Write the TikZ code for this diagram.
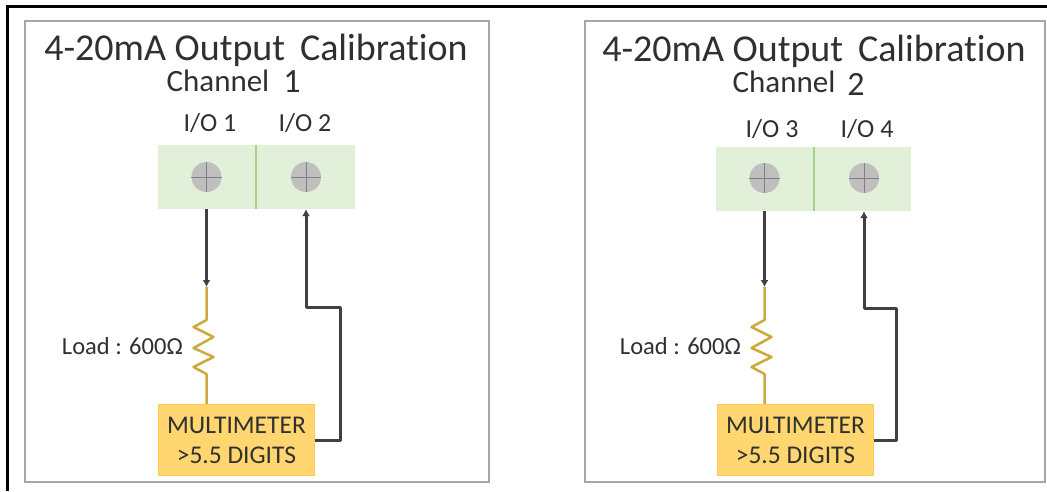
\documentclass[tikz,border=0pt]{standalone}
\usepackage{fontspec}
\setmainfont{Carlito}[Ligatures=NoCommon]
\usetikzlibrary{arrows.meta}
\definecolor{termgreen}{HTML}{E2EFD9}
\definecolor{divgreen}{HTML}{A9D18E}
\definecolor{screwgray}{HTML}{BFBFBF}
\definecolor{metergold}{HTML}{FFD670}
\definecolor{meteredge}{HTML}{FFC94D}
\definecolor{loadgold}{HTML}{CDAA3C}
\definecolor{wiregray}{HTML}{404040}
\definecolor{panelgray}{HTML}{A6A6A6}
\definecolor{textgray}{HTML}{303030}
\tikzset{
	panel/.style={draw=panelgray, line width=1.6pt, fill=white, minimum width=#1, minimum height=461pt, inner sep=0pt},
	terminal/.style={fill=termgreen, minimum height=64pt, inner sep=0pt},
	screw/.style={circle, fill=screwgray, minimum size=30pt, inner sep=0pt},
	meter/.style={draw=meteredge, line width=0.8pt, fill=metergold, minimum width=156pt, minimum height=71pt, inner sep=0pt, align=center, font=\fontsize{25.5}{30}\selectfont, text=textgray},
	wire/.style={draw=wiregray, line width=3pt, line join=round},
	loadwire/.style={draw=loadgold, line width=2.5pt, line join=round},
	tip/.style={-{Latex[length=7pt,width=8pt]}},
	iolabel/.style={font=\fontsize{26}{28}\selectfont, text=textgray, inner sep=0pt}
}
\begin{document}
\begin{tikzpicture}[x=1pt,y=-1pt]
	\useasboundingbox (0,0) rectangle (1047,491);
	\fill[white] (0,0) rectangle (1047,491);
	\coordinate (frameA) at (7.3,491);
	\coordinate (frameB) at (7.3,6.5);
	\coordinate (frameC) at (1047,6.5);
	\draw[line width=3pt] (frameA) -- (frameB) -- (frameC);
	% one panel per channel
	\foreach \n/\px/\pw/\dx/\dy/\ty/\cx/\cy/\ca/\cb/\nx/\ny in {1/257/464/0/0/50/218/81/1/2/292/82,2/815/460/558/2/51/784/82/3/4/856/84} {
		\node[panel=\pw] (box\n) at (\px,251.5) {};
		\node[inner sep=0pt, font=\fontsize{38}{40}\selectfont, text=textgray] (title\n) at (\px-1,\ty) {4-20mA Output\, Calibration};
		\node[inner sep=0pt, font=\fontsize{31}{33}\selectfont, text=textgray] (chan\n) at (\cx,\cy) {Channel};
		\node[inner sep=0pt, font=\fontsize{34}{36}\selectfont, text=textgray] (num\n) at (\nx,\ny) {\n};
		\node[terminal, minimum width=98pt] (ioa\n) at (207+\dx,177+\dy) {};
		\node[terminal, minimum width=99pt-\dy*1pt] (iob\n) at (305.5+\dx-\dy/2,177+\dy) {};
		\draw[divgreen, line width=1.6pt] (ioa\n.north east) -- (ioa\n.south east);
		\node[screw] (sa\n) at (206.5+\dx,177+\dy/2) {};
		\node[screw] (sb\n) at (306+\dx,177+\dy/2) {};
		\draw[gray, line width=0.5pt] (sa\n.north) -- (sa\n.south) (sa\n.west) -- (sa\n.east);
		\draw[gray, line width=0.5pt] (sb\n.north) -- (sb\n.south) (sb\n.west) -- (sb\n.east);
		\node[iolabel] (la\n) at (210+\dx+\dy*2,123+\dy*3) {I/O \ca};
		\node[iolabel] (lb\n) at (305+\dx+\dy*2,123+\dy*3) {I/O \cb};
		\node[meter] (mm\n) at (236.5+\dx+\dy/2,440) {MULTIMETER\\>5.5 DIGITS};
		\node[iolabel, anchor=east, font=\fontsize{24.5}{26}\selectfont] (load\n) at (183+\dx,346) {Load : 600Ω};
		% wires
		\coordinate (ra\n) at (206.5+\dx,287);
		\coordinate (rb\n) at (206.5+\dx,404);
		\coordinate (ua\n) at (340+\dx-\dy,440);
		\coordinate (ub\n) at (340+\dx-\dy,307+\dy/2);
		\coordinate (uc\n) at (306+\dx,307+\dy/2);
		\draw[loadwire] (ra\n) -- ++(0,33) -- ++(-13,7) -- ++(20,10) -- ++(-20,11) -- ++(20,9) -- ++(-20,10) -- ++(13,7) -- (rb\n);
		\draw[wire, tip] (sa\n |- ioa\n.south) -- (ra\n);
		\draw[wire, tip] (mm\n.east |- ua\n) -- (ua\n) -- (ub\n) -- (uc\n) -- (sb\n |- iob\n.south);
	}
\end{tikzpicture}
\end{document}
